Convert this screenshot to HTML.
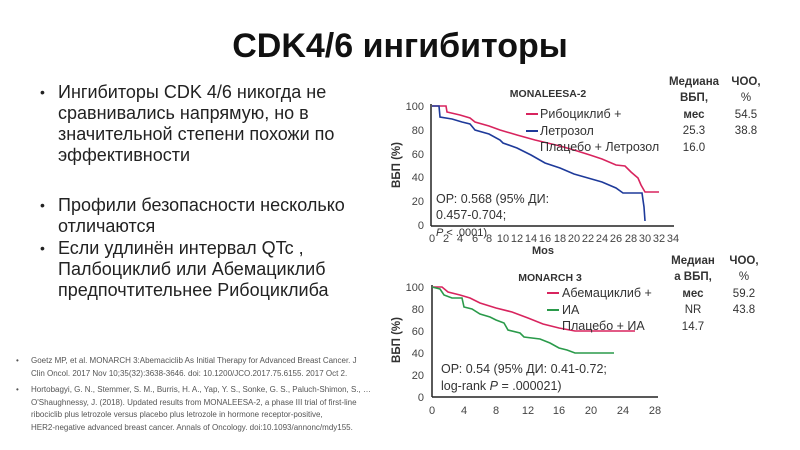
<!DOCTYPE html>
<html><head><meta charset="utf-8">
<style>
body{margin:0;width:800px;height:450px;background:#fff;overflow:hidden;font-family:"Liberation Sans","Noto Sans CJK SC",sans-serif;position:relative}
.t{position:absolute;white-space:nowrap}
.title{left:0;width:800px;text-align:center;top:27px;font-size:34px;font-weight:bold;color:#111}
.b{position:absolute;left:58px;font-size:18px;line-height:21px;color:#222;white-space:nowrap}
.b:before{content:"•";position:absolute;left:-18px;font-size:14px}
.ref{position:absolute;left:31px;font-size:8px;line-height:12.5px;color:#555;white-space:nowrap}
.ref:before{content:"•";position:absolute;left:-15px}
</style></head><body>
<div class="t title">CDK4/6 ингибиторы</div>
<div class="b" style="top:82px">Ингибиторы CDK 4/6 никогда не<br>сравнивались напрямую, но в<br>значительной степени похожи по<br>эффективности</div>
<div class="b" style="top:195px">Профили безопасности несколько<br>отличаются</div>
<div class="b" style="top:238px">Если удлинён интервал QTc ,<br>Палбоциклиб или Абемациклиб<br>предпочтительнее Рибоциклиба</div>
<div class="ref" style="top:355px">Goetz MP, et al. MONARCH 3:Abemaciclib As Initial Therapy for Advanced Breast Cancer. J<br>Clin Oncol. 2017 Nov 10;35(32):3638-3646. doi: 10.1200/JCO.2017.75.6155. 2017 Oct 2.</div>
<div class="ref" style="top:384px">Hortobagyi, G. N., Stemmer, S. M., Burris, H. A., Yap, Y. S., Sonke, G. S., Paluch-Shimon, S., …<br>O'Shaughnessy, J. (2018). Updated results from MONALEESA-2, a phase III trial of first-line<br>ribociclib plus letrozole versus placebo plus letrozole in hormone receptor-positive,<br>HER2-negative advanced breast cancer. Annals of Oncology. doi:10.1093/annonc/mdy155.</div>

<svg width="800" height="450" style="position:absolute;left:0;top:0" font-family="Liberation Sans, sans-serif">
<g font-size="11" fill="#444" text-anchor="end">
<text x="424" y="110">100</text><text x="424" y="134">80</text><text x="424" y="158">60</text><text x="424" y="181">40</text><text x="424" y="205">20</text><text x="424" y="229">0</text>
</g>
<line x1="431" y1="104" x2="431" y2="226" stroke="#222" stroke-width="1.5"/>
<line x1="431" y1="226" x2="674" y2="226" stroke="#222" stroke-width="1.5"/>
<g font-size="11" fill="#444" text-anchor="middle">
<text x="432" y="242">0</text><text x="446" y="242">2</text><text x="460" y="242">4</text><text x="475" y="242">6</text><text x="489" y="242">8</text><text x="503" y="242">10</text><text x="517" y="242">12</text><text x="531" y="242">14</text><text x="545" y="242">16</text><text x="560" y="242">18</text><text x="574" y="242">20</text><text x="588" y="242">22</text><text x="602" y="242">24</text><text x="616" y="242">26</text><text x="631" y="242">28</text><text x="645" y="242">30</text><text x="659" y="242">32</text><text x="673" y="242">34</text>
</g>
<text x="543" y="254" font-size="11" font-weight="bold" fill="#333" text-anchor="middle">Mos</text>
<text x="548" y="97" font-size="10.5" font-weight="bold" fill="#333" text-anchor="middle">MONALEESA-2</text>
<text transform="translate(400,165) rotate(-90)" font-size="11.5" font-weight="bold" fill="#333" text-anchor="middle">ВБП (%)</text>
<polyline fill="none" stroke="#d8245e" stroke-width="1.6" points="432,106 446,106 447,112 460,115 470,118 475,122 489,126 500,130 517,135 535,140 560,146 574,150 590,155 602,159 616,165 625,166 631,172 638,178 641,185 645,192 659,192"/>
<polyline fill="none" stroke="#1e3a9a" stroke-width="1.6" points="432,106 439,106 440,117 452,119 462,122 470,124 475,130 489,134 500,140 503,143 517,148 531,155 545,163 560,168 574,174 588,178 602,182 616,188 623,193 642,193 644,207 645,221"/>
<line x1="526" y1="114" x2="538" y2="114" stroke="#d8245e" stroke-width="2"/>
<line x1="526" y1="131" x2="538" y2="131" stroke="#1e3a9a" stroke-width="2"/>
<g font-size="12.5" fill="#333">
<text x="540" y="118">Рибоциклиб +</text><text x="540" y="135">Летрозол</text><text x="540" y="151">Плацебо + Летрозол</text>
<text x="436" y="203">ОР: 0.568 (95% ДИ:</text><text x="436" y="219">0.457-0.704;</text>
</g>
<text x="436" y="236" font-size="11" fill="#333"><tspan font-style="italic">P</tspan> &lt; .0001)</text>
<g font-size="11.5" fill="#333" text-anchor="middle">
<text x="694" y="85" font-weight="bold">Медиана</text><text x="694" y="101" font-weight="bold">ВБП,</text><text x="694" y="118" font-weight="bold">мес</text>
<text x="694" y="134">25.3</text><text x="694" y="151">16.0</text>
<text x="746" y="85" font-weight="bold">ЧОО,</text><text x="746" y="101">%</text><text x="746" y="118">54.5</text><text x="746" y="134">38.8</text>
</g>
<g font-size="11" fill="#444" text-anchor="end">
<text x="424" y="291">100</text><text x="424" y="313">80</text><text x="424" y="335">60</text><text x="424" y="357">40</text><text x="424" y="379">20</text><text x="424" y="401">0</text>
</g>
<line x1="432" y1="285" x2="432" y2="397" stroke="#222" stroke-width="1.5"/>
<line x1="432" y1="397" x2="658" y2="397" stroke="#222" stroke-width="1.5"/>
<g font-size="11" fill="#444" text-anchor="middle">
<text x="432" y="414">0</text><text x="464" y="414">4</text><text x="496" y="414">8</text><text x="528" y="414">12</text><text x="559" y="414">16</text><text x="591" y="414">20</text><text x="623" y="414">24</text><text x="655" y="414">28</text>
</g>
<text x="550" y="281" font-size="10.5" font-weight="bold" fill="#333" text-anchor="middle">MONARCH 3</text>
<text transform="translate(400,340) rotate(-90)" font-size="11.5" font-weight="bold" fill="#333" text-anchor="middle">ВБП (%)</text>
<polyline fill="none" stroke="#d8245e" stroke-width="1.6" points="432,287 442,287 448,292 460,295 470,298 480,303 496,308 512,312 528,318 543,324 559,328 575,331 591,331 635,331"/>
<polyline fill="none" stroke="#2a9a4a" stroke-width="1.6" points="432,287 440,289 444,295 452,298 462,298 464,307 472,309 480,314 490,317 496,320 504,323 508,330 520,333 524,337 540,339 550,343 559,348 567,350 575,353 614,353"/>
<line x1="547" y1="293" x2="559" y2="293" stroke="#d8245e" stroke-width="2"/>
<line x1="547" y1="310" x2="559" y2="310" stroke="#2a9a4a" stroke-width="2"/>
<g font-size="12.5" fill="#333">
<text x="562" y="297">Абемациклиб +</text><text x="562" y="314">ИА</text><text x="562" y="330">Плацебо + ИА</text>
<text x="441" y="373">ОР: 0.54 (95% ДИ: 0.41-0.72;</text>
<text x="441" y="390">log-rank <tspan font-style="italic">P</tspan> = .000021)</text>
</g>
<g font-size="11.5" fill="#333" text-anchor="middle">
<text x="693" y="264" font-weight="bold">Медиан</text><text x="693" y="280" font-weight="bold">а ВБП,</text><text x="693" y="297" font-weight="bold">мес</text>
<text x="693" y="313">NR</text><text x="693" y="330">14.7</text>
<text x="744" y="264" font-weight="bold">ЧОО,</text><text x="744" y="280">%</text><text x="744" y="297">59.2</text><text x="744" y="313">43.8</text>
</g>
</svg>
</body></html>
